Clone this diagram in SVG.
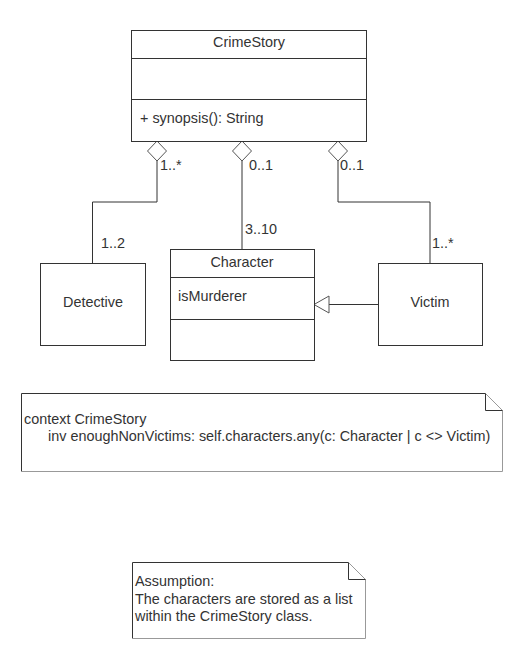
<svg xmlns="http://www.w3.org/2000/svg" width="517" height="661" viewBox="0 0 517 661">
<style>
text{font-family:"Liberation Sans",Arial,sans-serif;font-size:14.4px;fill:#333}
.box{fill:#fff;stroke:#333;stroke-width:1}
.ln{fill:none;stroke:#333;stroke-width:1}
.dia{fill:#fff;stroke:#555;stroke-width:1}
.c{text-anchor:middle}
.nd{fill:none;stroke:#333;stroke-width:1}
.nl{fill:none;stroke:#999;stroke-width:1}
</style>
<rect width="517" height="661" fill="#fff"/>
<g id="connectors">
<path class="ln" d="M157,161 V202 H92.5 V263"/>
<path class="ln" d="M242,161 V249"/>
<path class="ln" d="M338,161 V202 H430 V263"/>
<path class="ln" d="M378,304.5 H329"/>
<polygon class="dia" points="314,304.5 329,296 329,313"/>
<polygon class="dia" points="157,141 166.5,151 157,161 147.5,151"/>
<polygon class="dia" points="242,141 251.5,151 242,161 232.5,151"/>
<polygon class="dia" points="338,141 347.5,151 338,161 328.5,151"/>
<text x="160" y="170">1..*</text>
<text x="249" y="170">0..1</text>
<text x="340" y="170">0..1</text>
<text x="245" y="234">3..10</text>
<text x="101" y="248">1..2</text>
<text x="432" y="248">1..*</text>
</g>
<g id="CrimeStory">
<rect class="box" x="131.5" y="30.5" width="235" height="111"/>
<path class="ln" d="M131.5,58.5 H366.5 M131.5,99.5 H366.5"/>
<text class="c" x="249" y="47">CrimeStory</text>
<text x="140" y="123">+ synopsis(): String</text>
</g>
<g id="Detective">
<rect class="box" x="40.5" y="263.5" width="105" height="82"/>
<text class="c" x="93" y="307">Detective</text>
</g>
<g id="Character">
<rect class="box" x="170.5" y="249.5" width="144" height="111"/>
<path class="ln" d="M170.5,277.5 H314.5 M170.5,319.5 H314.5"/>
<text class="c" x="242" y="267">Character</text>
<text x="178" y="301">isMurderer</text>
</g>
<g id="Victim">
<rect class="box" x="378.5" y="263.5" width="104" height="82"/>
<text class="c" x="430" y="307">Victim</text>
</g>
<g id="note1">
<path d="M21.5,393.5 H485.5 L502.5,410.5 V471.5 H21.5 Z" fill="#fff" stroke="none"/>
<path class="nd" d="M21.5,471.5 V393.5 H485.5"/>
<path class="nl" d="M485.5,393.5 L502.5,410.5 V471.5 H21.5"/>
<path class="nd" d="M485.5,393.5 V410.5 H502.5"/>
<text x="24" y="424">context CrimeStory</text>
<text x="48" y="441">inv enoughNonVictims: self.characters.any(c: Character | c &lt;&gt; Victim)</text>
</g>
<g id="note2">
<path d="M132.5,562.5 H348.5 L365.5,579.5 V638.5 H132.5 Z" fill="#fff" stroke="none"/>
<path class="nd" d="M132.5,638.5 V562.5 H348.5"/>
<path class="nl" d="M348.5,562.5 L365.5,579.5 V638.5 H132.5"/>
<path class="nd" d="M348.5,562.5 V579.5 H365.5"/>
<text x="135" y="586">Assumption:</text>
<text x="135" y="603.5">The characters are stored as a list</text>
<text x="135" y="621">within the CrimeStory class.</text>
</g>
</svg>
